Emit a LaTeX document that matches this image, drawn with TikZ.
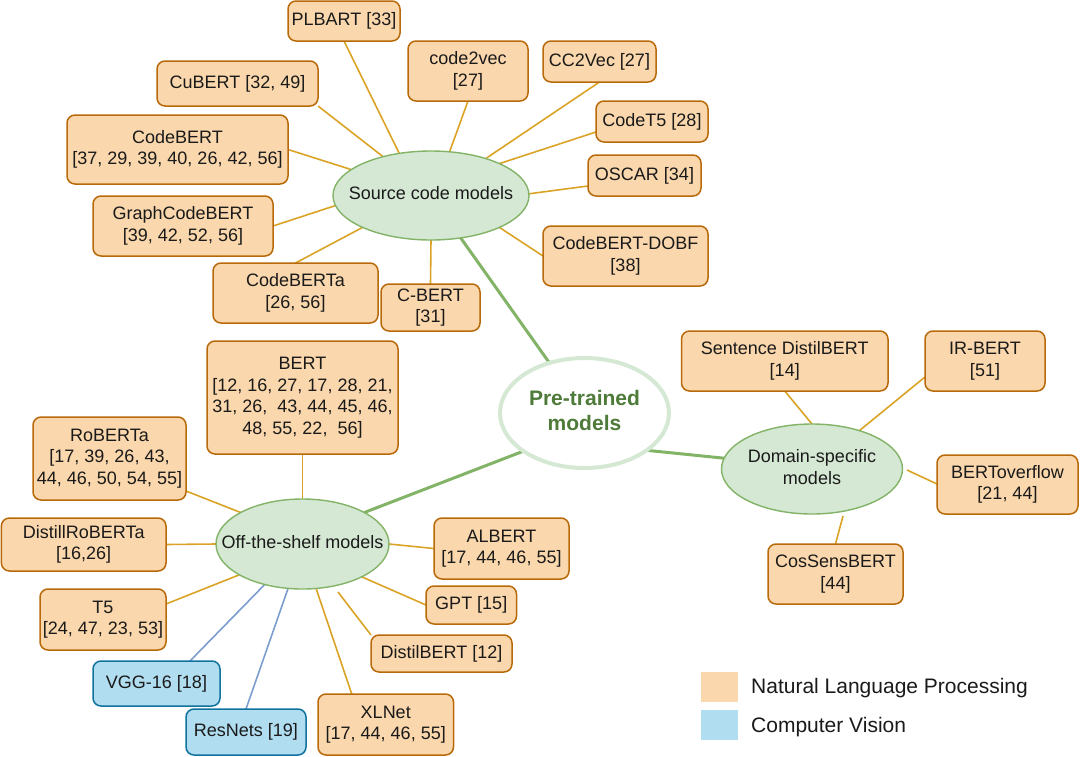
\documentclass[tikz,border=0pt]{standalone}
\usepackage{fontspec}
\setmainfont{Liberation Sans}
\usetikzlibrary{shapes.geometric,calc,backgrounds}
\definecolor{nlpfill}{HTML}{FAD7AC}
\definecolor{nlpdraw}{HTML}{B86A0A}
\definecolor{cvfill}{HTML}{B1DDF0}
\definecolor{cvdraw}{HTML}{10739E}
\definecolor{grfill}{HTML}{D5E8D4}
\definecolor{grdraw}{HTML}{82B366}
\definecolor{linkc}{HTML}{DAA326}
\definecolor{cvlinkc}{HTML}{7B9DD0}
\definecolor{pretext}{HTML}{4E7A3A}
\definecolor{txt}{HTML}{1A1A1A}
\newcommand{\zw}[1]{\makebox[0pt]{\raisebox{-1.5pt}{\begin{tabular}{@{}c@{}}#1\end{tabular}}}}
\tikzset{
  basebox/.style={rectangle, rounded corners=8pt, line width=1.5pt, align=center, inner sep=0pt, outer sep=0pt, text=txt, font=\fontsize{18}{21.6}\selectfont},
  nlp/.style={basebox, draw=nlpdraw, fill=nlpfill},
  cv/.style={basebox, draw=cvdraw, fill=cvfill},
  topic/.style={ellipse, draw=grdraw, fill=grfill, line width=1.4pt, inner sep=0pt, outer sep=0pt, text=txt, font=\fontsize{18}{22}\selectfont},
  link/.style={draw=linkc, line width=1.6pt},
  cvlink/.style={draw=cvlinkc, line width=1.6pt},
  trunk/.style={draw=grdraw, line width=3pt},
  legtext/.style={anchor=west, inner sep=0pt, text=txt, font=\fontsize{21}{25}\selectfont}
}
\begin{document}
\begin{tikzpicture}[x=1pt,y=-1pt]
\useasboundingbox (0,0) rectangle (1080,756);

% central node
\node[ellipse, draw=grfill, fill=white, line width=4pt, minimum width=169, minimum height=110, inner sep=0pt, outer sep=0pt, text=pretext, font=\fontsize{21}{25.2}\selectfont\bfseries] (pre) at (584.5,413) {\zw{Pre-trained\\models}};

% category ellipses
\node[topic, minimum width=196, minimum height=89] (src) at (431,195.5) {\zw{Source code models}};
\node[topic, minimum width=173, minimum height=90] (off) at (302.5,544) {\zw{Off-the-shelf models}};
\node[topic, minimum width=181, minimum height=90] (dom) at (812,469) {\zw{Domain-specific\\models}};

% source code models
\node[nlp, minimum width=112, minimum height=40] (plbart) at (344,21) {PLBART [33]};
\node[nlp, minimum width=120, minimum height=60] (code2vec) at (468,71) {code2vec\\{[27]}};
\node[nlp, minimum width=113, minimum height=41] (cc2vec) at (599.5,61.5) {CC2Vec [27]};
\node[nlp, minimum width=161, minimum height=45] (cubert) at (237.5,83.5) {CuBERT [32, 49]};
\node[nlp, minimum width=112, minimum height=41] (codet5) at (652,121.5) {CodeT5 [28]};
\node[nlp, minimum width=221, minimum height=69] (codebert) at (177.5,149.5) {CodeBERT\\{[37, 29, 39, 40, 26, 42, 56]}};
\node[nlp, minimum width=113, minimum height=41] (oscar) at (644.5,175.5) {OSCAR [34]};
\node[nlp, minimum width=180, minimum height=60] (graphcb) at (183,226) {GraphCodeBERT\\{[39, 42, 52, 56]}};
\node[nlp, minimum width=165, minimum height=60] (dobf) at (625.5,256) {CodeBERT-DOBF\\{[38]}};
\node[nlp, minimum width=165, minimum height=60] (codeberta) at (295.5,293) {CodeBERTa\\{[26, 56]}};
\node[nlp, minimum width=99, minimum height=47] (cbert) at (430.5,307.5) {C-BERT\\{[31]}};

% off-the-shelf models
\node[nlp, minimum width=191, minimum height=113] (bert) at (302.5,397.5) {BERT\\{[12, 16, 27, 17, 28, 21,}\\31, 26,~ 43, 44, 45, 46,\\48, 55, 22,~ 56]};
\node[nlp, minimum width=153, minimum height=83] (roberta) at (109.5,458.5) {RoBERTa\\{[17, 39, 26, 43,}\\44, 46, 50, 54, 55]};
\node[nlp, minimum width=164.6, minimum height=53] (droberta) at (83.7,544.5) {DistillRoBERTa\\{[16,26]}};
\node[nlp, minimum width=126, minimum height=61] (t5) at (103,619.5) {T5\\{[24, 47, 23, 53]}};
\node[cv, minimum width=127, minimum height=45] (vgg) at (156.5,683.5) {VGG-16 [18]};
\node[cv, minimum width=120, minimum height=46] (resnets) at (246,732) {ResNets [19]};
\node[nlp, minimum width=135.5, minimum height=61] (xlnet) at (385.75,724.5) {XLNet\\{[17, 44, 46, 55]}};
\node[nlp, minimum width=141, minimum height=37] (distilbert) at (441.5,653.5) {DistilBERT [12]};
\node[nlp, minimum width=90.5, minimum height=38] (gpt) at (471.25,605) {GPT [15]};
\node[nlp, minimum width=135, minimum height=61] (albert) at (501.5,548.5) {ALBERT\\{[17, 44, 46, 55]}};

% domain-specific models
\node[nlp, minimum width=206.5, minimum height=60] (sdistil) at (784.75,361) {Sentence DistilBERT\\{[14]}};
\node[nlp, minimum width=120, minimum height=60] (irbert) at (985,361) {IR-BERT\\{[51]}};
\node[nlp, minimum width=141, minimum height=59] (bertov) at (1007.5,484.5) {BERToverflow\\{[21, 44]}};
\node[nlp, minimum width=135, minimum height=60] (cossens) at (835.5,574) {CosSensBERT\\{[44]}};

% legend
\node[rectangle, fill=nlpfill, minimum width=37, minimum height=30, inner sep=0pt] (legnlp) at (719.4,687) {};
\node[rectangle, fill=cvfill, minimum width=37, minimum height=30, inner sep=0pt] (legcv) at (719.4,725) {};
\node[legtext] (legnlptext) at (751,688) {Natural Language Processing};
\node[legtext] (legcvtext) at (751,727) {Computer Vision};

\begin{scope}[on background layer]
% trunk
\draw[trunk] (src.-55.4) -- (pre.125.5);
\draw[trunk] (pre.212) -- (off.27);
\draw[trunk] (pre.-31.7) -- (dom.173.7);
% source code links
\draw[link] (plbart.south) -- (src.127);
\draw[link] (code2vec.south) -- (src.67);
\draw[link] (cc2vec.south) -- (src.34.5);
\draw[link] ($(codet5.west)+(0,10.5)$) -- (src.25);
\draw[link] ($(oscar.west)+(0,10.5)$) -- (src.1);
\draw[link] (dobf.west) -- (src.-25.6);
\draw[link] (cubert.south east) -- (src.141);
\draw[link] (codebert.east) -- (src.162.5);
\draw[link] (graphcb.east) -- (src.186);
\draw[link] (codeberta.north) -- (src.205);
\draw[link] (cbert.north) -- (src.south);
% domain-specific links
\draw[link] (sdistil.south) -- (dom.north);
\draw[link] ($(irbert.west)+(0,16)$) -- (dom.39.8);
\draw[link] ($(bertov.west)+(0,-0.5)$) -- ($(dom.center)+(95,1)$);
\draw[link] (cossens.north) -- ($(dom.center)+(31,47)$);
% off-the-shelf links
\draw[link] (bert.south) -- (off.north);
\draw[link] ($(roberta.south east)+(0,-9)$) -- (off.153);
\draw[link] (droberta.east) -- (off.west);
\draw[link] ($(t5.east)+(0,-15.5)$) -- (off.206);
\draw[cvlink] ($(vgg.north)+(33.5,0)$) -- (off.227.4);
\draw[cvlink] (resnets.north) -- (off.252);
\draw[link] ($(xlnet.north)+(-34,0)$) -- (off.287.5);
\draw[link] (distilbert.north west) -- ($(off.center)+(35.5,48)$);
\draw[link] (gpt.west) -- (off.331.5);
\draw[link] (albert.west) -- (off.east);
\end{scope}
\end{tikzpicture}
\end{document}
